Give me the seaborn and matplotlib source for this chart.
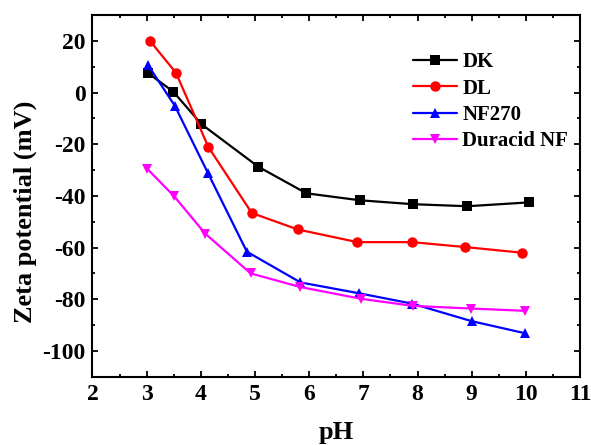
import pandas as pd
import matplotlib.pyplot as plt
import seaborn as sns
from matplotlib.ticker import MultipleLocator

series = ['DK', 'DL', 'NF270', 'Duracid NF']
dk_ph = [3.03, 3.49, 4.01, 5.06, 5.95, 6.94, 7.91, 8.92, 10.06]
dk_zeta = [7.5, 0.4, -12.2, -28.7, -39.0, -41.7, -43.2, -44.0, -42.5]
dl_ph = [3.07, 3.54, 4.14, 4.94, 5.79, 6.89, 7.90, 8.88, 9.93]
dl_zeta = [19.8, 7.7, -21.1, -46.6, -53.0, -57.9, -57.9, -59.8, -62.0]
nf_ph = [3.03, 3.52, 4.13, 4.85, 5.84, 6.92, 7.90, 9.00, 9.99]
nf_zeta = [10.5, -5.1, -31.1, -61.6, -73.5, -77.7, -81.7, -88.5, -93.2]
du_ph = [3.01, 3.51, 4.08, 4.92, 5.84, 6.95, 7.92, 8.98, 9.99]
du_zeta = [-29.5, -40.2, -54.6, -70.0, -75.3, -79.8, -82.6, -83.6, -84.5]

colors = ['black', 'red', 'blue', 'magenta']
markers = ['s', 'o', '^', 'v']

frames = []
for name, ph, z in zip(series, [dk_ph, dl_ph, nf_ph, du_ph], [dk_zeta, dl_zeta, nf_zeta, du_zeta]):
    frames.append(pd.DataFrame({'pH': ph, 'zeta': z, 'membrane': name}))
df = pd.concat(frames, ignore_index=True)

sns.set_style('ticks')
plt.rcParams['font.family'] = 'serif'
plt.rcParams['font.serif'] = ['Liberation Serif', 'DejaVu Serif']
plt.rcParams['font.weight'] = 'bold'
plt.rcParams['axes.labelweight'] = 'bold'
plt.rcParams['axes.unicode_minus'] = False
for key in ['text.color', 'axes.labelcolor', 'xtick.color', 'ytick.color', 'axes.edgecolor']:
    plt.rcParams[key] = 'black'

fig = plt.figure(figsize=(5.91, 4.45), dpi=100)
ax = fig.add_axes([0.1565, 0.1535, 0.8249, 0.8125])

sns.lineplot(data=df, x='pH', y='zeta', hue='membrane', style='membrane',
             hue_order=series, style_order=series, palette=colors,
             markers=markers, dashes=False, estimator=None, sort=False,
             linewidth=1.6, markersize=7.5, markeredgewidth=0, ax=ax)

ax.set_xlim(2, 11)
ax.set_ylim(-110, 30)
ax.xaxis.set_major_locator(MultipleLocator(1))
ax.xaxis.set_minor_locator(MultipleLocator(0.5))
ax.yaxis.set_major_locator(MultipleLocator(20))
ax.yaxis.set_minor_locator(MultipleLocator(10))
ax.tick_params(which='both', direction='in', top=True, right=True, width=1.3)
ax.tick_params(which='major', length=4, labelsize=17, pad=5)
ax.tick_params(which='minor', length=2.5)
for sp in ax.spines.values():
    sp.set_linewidth(1.5)

ax.set_xlabel('pH', fontsize=19, fontweight='bold', labelpad=12)
ax.set_ylabel('Zeta potential (mV)', fontsize=19, fontweight='bold')
ax.yaxis.set_label_coords(-0.114, 0.456)

leg = ax.legend(loc='upper right', bbox_to_anchor=(1.014, 0.949), frameon=False,
                prop={'family': 'serif', 'size': 15, 'weight': 'bold'},
                handlelength=2.1, labelspacing=0.3, handletextpad=0.25)

fig.savefig('out.png', dpi=100)
